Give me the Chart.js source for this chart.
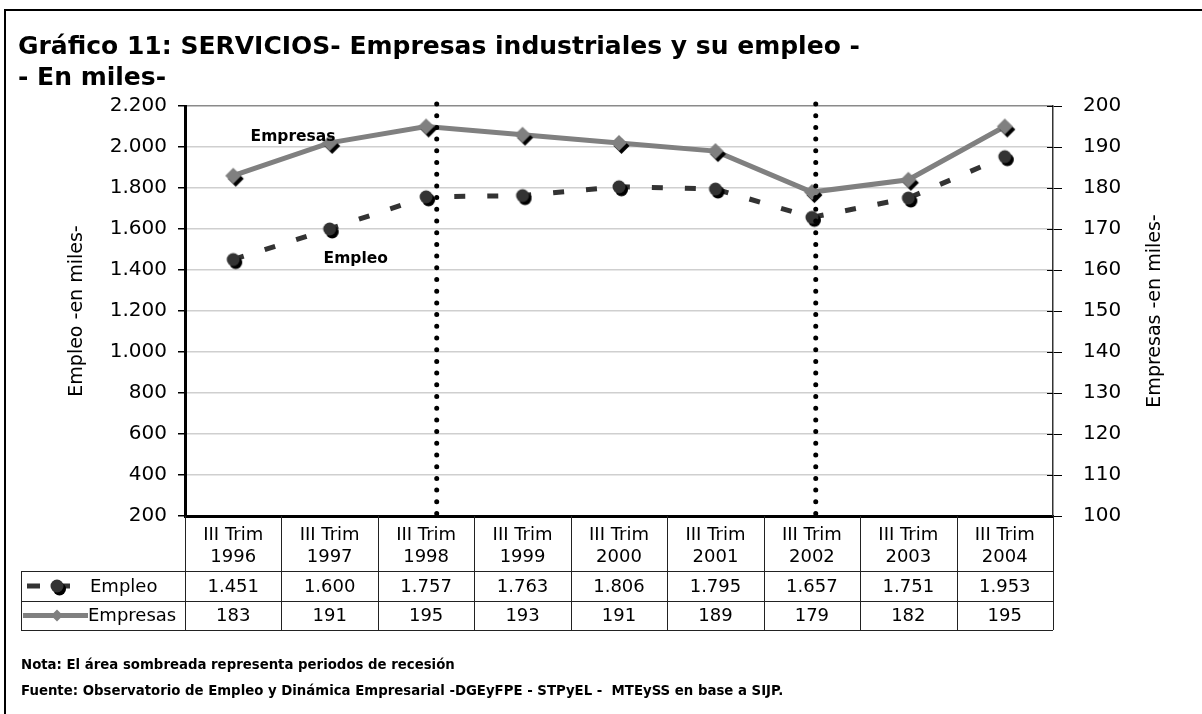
<!DOCTYPE html>
<html>
<head>
<meta charset="utf-8">
<script src="https://cdn.jsdelivr.net/npm/chart.js@4.4.1/dist/chart.umd.min.js"></script>
<style>
  html, body { margin: 0; padding: 0; background: #fff; }
</style>
</head>
<body>
<canvas id="chart" width="1202" height="714"></canvas>
<script>
/* ── Data ── */
const years = ['1996', '1997', '1998', '1999', '2000', '2001', '2002', '2003', '2004'];
const categories = years.map(y => ['III Trim', y]);
const empleo = [1451, 1600, 1757, 1763, 1806, 1795, 1657, 1751, 1953];
const empresas = [183, 191, 195, 193, 191, 189, 179, 182, 195];
const recesion = ['1998', '2002'];

const FONT = "'DejaVu Sans', Verdana, sans-serif";
const fmt = v => String(v).replace(/\B(?=(\d{3})+(?!\d))/g, '.');

/* markers with the little black shadow down-right */
function marker(shape, color) {
  const c = document.createElement('canvas');
  c.width = c.height = 26;
  const g = c.getContext('2d');
  const draw = (dx, dy, col) => {
    g.fillStyle = col;
    g.beginPath();
    if (shape === 'circle') {
      g.arc(13 + dx, 13 + dy, 6.5, 0, Math.PI * 2);
    } else {
      g.moveTo(13 + dx, 5 + dy);
      g.lineTo(21 + dx, 13 + dy);
      g.lineTo(13 + dx, 21 + dy);
      g.lineTo(5 + dx, 13 + dy);
      g.closePath();
    }
    g.fill();
  };
  draw(2.5, 3, '#000');
  draw(0, 0, color);
  return c;
}
const dot = marker('circle', '#333333');
const diamond = marker('diamond', '#808080');

/* ── Decorations: frame, title, axis titles, data table, notes ── */
const decor = {
  id: 'decor',
  beforeDraw(chart) {
    const { ctx, width, height } = chart;
    ctx.save();
    ctx.fillStyle = '#fff';
    ctx.fillRect(0, 0, width, height);
    ctx.strokeStyle = '#000';
    ctx.lineWidth = 2;
    ctx.beginPath();
    ctx.moveTo(5, height);
    ctx.lineTo(5, 10);
    ctx.lineTo(width, 10);
    ctx.stroke();
    ctx.restore();
  },
  afterDatasetsDraw(chart) {
    const { ctx, chartArea: ca, scales: { x } } = chart;
    const colW = (ca.right - ca.left) / years.length;
    const shift = { '1998': 0.11, '2002': 0.04 };
    ctx.save();
    ctx.strokeStyle = '#000';
    ctx.lineWidth = 5;
    ctx.lineCap = 'round';
    ctx.setLineDash([0, 11.7]);
    recesion.forEach(y => {
      const px = x.getPixelForValue(years.indexOf(y)) + shift[y] * colW;
      ctx.beginPath();
      ctx.moveTo(px, ca.top - 2);
      ctx.lineTo(px, ca.bottom + 5);
      ctx.stroke();
    });
    ctx.restore();

    // series labels
    const yL = chart.scales.y;
    ctx.save();
    ctx.font = `bold 15.5px ${FONT}`;
    ctx.fillStyle = '#000';
    ctx.textAlign = 'center';
    ctx.textBaseline = 'middle';
    const at = (i) => x.getPixelForValue(0) + i * colW;
    ctx.fillText('Empresas', at(0.62), yL.getPixelForValue(2050));
    ctx.fillText('Empleo', at(1.27), yL.getPixelForValue(1455));
    ctx.restore();
  },
  afterDraw(chart) {
    const { ctx, chartArea: ca, scales: { x, y1 } } = chart;
    const n = years.length;
    const colW = (ca.right - ca.left) / n;
    ctx.save();

    // title
    ctx.fillStyle = '#000';
    ctx.font = `bold 25px ${FONT}`;
    ctx.textAlign = 'left';
    ctx.textBaseline = 'alphabetic';
    ctx.fillText('Gráfico 11: SERVICIOS- Empresas industriales y su empleo -', 18, 54);
    ctx.fillText('- En miles-', 18, 85);

    // axis titles
    ctx.font = `19px ${FONT}`;
    ctx.textAlign = 'center';
    ctx.textBaseline = 'middle';
    const midY = (ca.top + ca.bottom) / 2;
    [[77, 'Empleo -en miles-'], [1155, 'Empresas -en miles-']].forEach(([tx, t]) => {
      ctx.save();
      ctx.translate(tx, midY);
      ctx.rotate(-Math.PI / 2);
      ctx.fillText(t, 0, 0);
      ctx.restore();
    });

    // inner part of right ticks
    ctx.strokeStyle = '#000';
    ctx.lineWidth = 1;
    y1.ticks.forEach(t => {
      const py = Math.round(y1.getPixelForValue(t.value)) + 0.5;
      ctx.beginPath();
      ctx.moveTo(ca.right - 6, py);
      ctx.lineTo(ca.right, py);
      ctx.stroke();
    });

    // data table
    const r0 = ca.bottom, r1 = r0 + 55, r2 = r1 + 30, r3 = r2 + 29;
    const legL = 21;
    ctx.strokeStyle = '#222';
    ctx.lineWidth = 1;
    ctx.beginPath();
    for (let i = 0; i <= n; i++) {
      const px = Math.round(ca.left + i * colW) + 0.5;
      ctx.moveTo(px, r0);
      ctx.lineTo(px, r3);
    }
    [r1, r2, r3].forEach(ry => {
      ctx.moveTo(legL, ry + 0.5);
      ctx.lineTo(ca.right, ry + 0.5);
    });
    ctx.moveTo(legL + 0.5, r1);
    ctx.lineTo(legL + 0.5, r3);
    ctx.stroke();

    ctx.fillStyle = '#000';
    ctx.font = `18px ${FONT}`;
    ctx.textAlign = 'center';
    ctx.textBaseline = 'middle';
    empleo.forEach((v, i) => ctx.fillText(fmt(v), x.getPixelForValue(i), (r1 + r2) / 2 + 1));
    empresas.forEach((v, i) => ctx.fillText(fmt(v), x.getPixelForValue(i), (r2 + r3) / 2 + 1));

    // legend keys
    const ey = (r1 + r2) / 2, py = (r2 + r3) / 2;
    ctx.textAlign = 'left';
    ctx.fillText('Empleo', 90, ey + 1);
    ctx.fillText('Empresas', 88, py + 1);
    ctx.strokeStyle = '#333';
    ctx.lineWidth = 5;
    ctx.beginPath();
    ctx.moveTo(27, ey); ctx.lineTo(40, ey);
    ctx.moveTo(58, ey); ctx.lineTo(70, ey);
    ctx.stroke();
    ctx.drawImage(dot, 57 - 13, ey - 13);
    ctx.strokeStyle = '#808080';
    ctx.beginPath();
    ctx.moveTo(23, py); ctx.lineTo(88, py);
    ctx.stroke();
    ctx.fillStyle = '#808080';
    ctx.beginPath();
    ctx.moveTo(57, py - 6); ctx.lineTo(63, py); ctx.lineTo(57, py + 6); ctx.lineTo(51, py);
    ctx.closePath();
    ctx.fill();

    // notes
    ctx.fillStyle = '#000';
    ctx.font = `bold 13.3px ${FONT}`;
    ctx.textAlign = 'left';
    ctx.textBaseline = 'middle';
    ctx.fillText('Nota: El área sombreada representa periodos de recesión', 21, 666);
    ctx.fillText('Fuente: Observatorio de Empleo y Dinámica Empresarial -DGEyFPE - STPyEL -  MTEySS en base a SIJP.', 21, 692);
    ctx.restore();
  }
};

/* ── Chart ── */
const ctx = document.getElementById('chart').getContext('2d');
new Chart(ctx, {
  type: 'line',
  data: {
    labels: categories,
    datasets: [
      {
        label: 'Empleo',
        data: empleo,
        yAxisID: 'y',
        borderColor: '#333333',
        borderWidth: 5,
        borderDash: [11, 22],
        pointStyle: dot,
        pointRadius: 8,
        tension: 0
      },
      {
        label: 'Empresas',
        data: empresas,
        yAxisID: 'y1',
        borderColor: '#808080',
        borderWidth: 5,
        pointStyle: diamond,
        pointRadius: 8,
        tension: 0
      }
    ]
  },
  options: {
    responsive: false,
    animation: false,
    devicePixelRatio: 1,
    layout: { padding: { top: 106, left: 100, right: 49, bottom: 0 } },
    plugins: { legend: { display: false }, title: { display: false }, tooltip: { enabled: false } },
    scales: {
      x: {
        offset: true,
        grid: { display: false },
        border: { display: true, color: '#000', width: 3 },
        ticks: { padding: 0, color: '#000', maxRotation: 0, autoSkip: false, font: { family: FONT, size: 18, lineHeight: 1.22 } },
        afterFit: s => { s.height = 198; }
      },
      y: {
        position: 'left',
        min: 200, max: 2200,
        ticks: { stepSize: 200, padding: 11, color: '#000', font: { family: FONT, size: 20 }, callback: v => fmt(v) },
        grid: { color: c => c.tick && c.tick.value === 2200 ? '#8a8a8a' : '#cfcfcf', lineWidth: 1.5, tickColor: '#000', tickLength: 7 },
        border: { color: '#000', width: 3 },
        afterFit: s => { s.width = 85; }
      },
      y1: {
        position: 'right',
        min: 100, max: 200,
        ticks: { stepSize: 10, padding: 21, color: '#000', font: { family: FONT, size: 20 } },
        grid: { drawOnChartArea: false, tickColor: '#000', tickLength: 9 },
        border: { color: '#333', width: 1.5 },
        afterFit: s => { s.width = 100; }
      }
    }
  },
  plugins: [decor]
});
</script>
</body>
</html>
